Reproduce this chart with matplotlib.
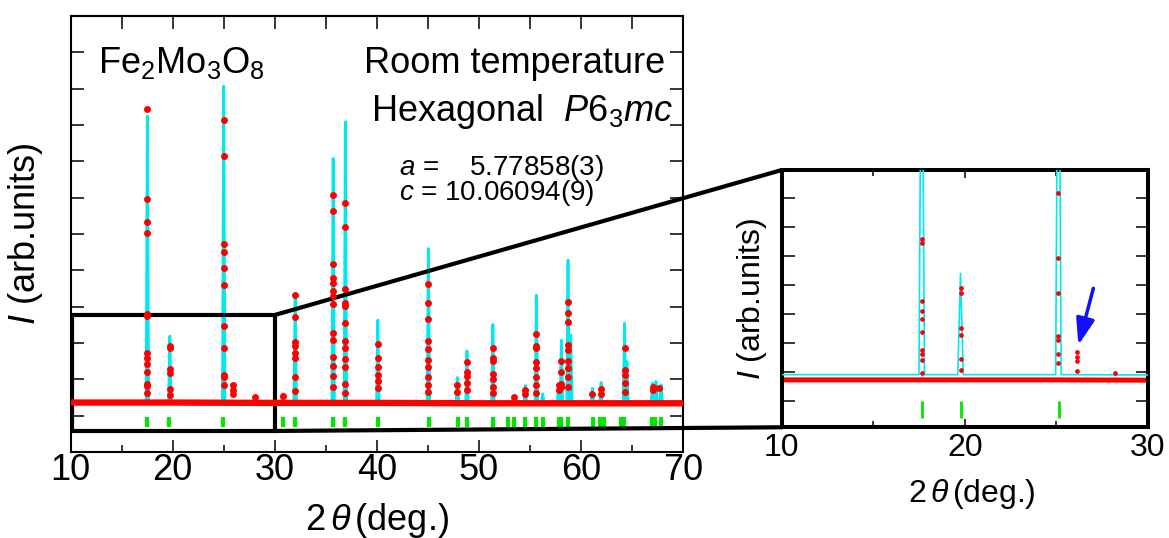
import matplotlib
matplotlib.use("Agg")
import matplotlib.pyplot as plt
from matplotlib.patches import Rectangle, ConnectionPatch
from matplotlib.ticker import MultipleLocator

plt.rcParams["font.family"] = ["Liberation Sans", "DejaVu Sans"]
plt.rcParams["mathtext.fontset"] = "custom"
plt.rcParams["mathtext.rm"] = "Liberation Sans"
plt.rcParams["mathtext.it"] = "Liberation Sans:italic"

RED = "#ff0000"
CYAN = "#00e8f0"
GREEN = "#00e600"

# ---------------- main pattern (arb. units) ----------------
base_x = [10, 20, 30, 40, 50, 60, 70]
base_obs = [1.36, 1.36, 1.35, 1.35, 1.34, 1.34, 1.34]
base_calc = [1.38, 1.38, 1.38, 1.38, 1.37, 1.37, 1.37]

calc_pos = [17.52, 19.72, 25.0, 30.8, 32.0, 35.72, 36.92, 40.1, 45.05, 47.9,
            48.83, 51.37, 53.4, 54.55, 55.63, 56.25, 57.8, 58.08, 58.73, 59.0,
            61.12, 61.97, 64.27, 64.5, 67.0, 67.35, 67.85]
calc_top = [9.25, 3.19, 10.07, 1.6, 4.28, 8.08, 9.09, 3.63, 5.6, 2.05,
            2.78, 3.51, 1.52, 1.83, 4.32, 1.6, 1.85, 3.08, 5.28, 3.22,
            1.75, 1.91, 3.54, 2.49, 1.9, 1.94, 1.85]

obs_pos = [17.52, 19.72, 25.0, 25.95, 28.1, 30.8, 32.0, 35.72, 36.92, 40.1,
           45.05, 47.9, 48.83, 51.37, 53.4, 54.55, 55.63, 57.8, 58.08, 58.73,
           61.12, 61.97, 64.27, 67.1, 67.6]
obs_dots = [
    [9.44, 6.96, 6.34, 6.02, 3.79, 3.74, 2.73, 2.58, 2.41, 2.19, 1.87, 1.82, 1.61],
    [2.93, 2.87, 2.28, 2.17, 1.73, 1.57],
    [9.14, 8.14, 5.73, 5.51, 5.05, 4.6, 3.48, 2.87, 2.12, 2.07, 1.83],
    [1.84, 1.71, 1.6],
    [1.5],
    [1.55],
    [4.32, 3.72, 3.04, 2.92, 2.72, 2.58, 2.05, 1.69],
    [7.06, 6.64, 5.17, 4.8, 4.64, 4.44, 4.28, 4.06, 3.28, 3.08, 2.62, 2.37, 2.09, 1.8],
    [6.85, 6.18, 4.49, 4.09, 4.03, 3.54, 3.06, 2.85, 2.56, 2.35, 1.87, 1.63],
    [2.96, 2.58, 2.35, 2.12, 1.94, 1.75],
    [4.62, 4.09, 3.66, 3.06, 2.84, 2.53, 2.33, 2.07, 1.84, 1.65],
    [1.84, 1.66],
    [2.49, 2.21, 2.1, 1.89, 1.7],
    [2.85, 2.58, 2.5, 2.15, 2.0, 1.8, 1.61],
    [1.5],
    [1.71, 1.6],
    [3.25, 2.92, 2.85, 2.49, 2.3, 2.07, 1.84, 1.61],
    [1.83, 1.7],
    [2.51, 2.19, 1.87, 1.8],
    [4.14, 3.83, 3.59, 2.95, 2.81, 2.51, 2.3, 2.06, 1.8],
    [1.6],
    [1.73, 1.6],
    [2.85, 2.26, 2.12, 1.89, 1.65],
    [1.8, 1.7],
    [1.75],
]

bragg = [17.52, 19.68, 24.97, 30.79, 32.0, 35.7, 36.87, 40.11, 45.07, 47.91,
         48.83, 51.34, 52.85, 53.4, 54.55, 55.6, 56.25, 57.81, 58.05, 58.73,
         61.15, 61.9, 62.22, 63.96, 64.19, 66.97, 67.29, 67.85]

# ---------------- inset (10-30 deg, own scale) ----------------
in_base_x = [10, 15, 20, 25, 30]
in_base_obs = [1.73, 1.73, 1.73, 1.73, 1.72]
in_base_calc = [1.91, 1.91, 1.91, 1.91, 1.9]
in_calc_pos = [17.65, 19.77, 25.12]
in_calc_top = [17.0, 5.39, 18.6]
in_obs_pos = [17.65, 19.77, 25.12, 26.15, 28.2]
in_obs_dots = [
    [6.59, 6.44, 4.44, 4.11, 3.81, 3.37, 2.76, 2.61, 2.42, 1.96],
    [4.88, 4.71, 3.51, 3.28, 2.44, 2.07],
    [8.17, 5.94, 4.73, 3.25, 3.10, 2.61, 2.30],
    [2.68, 2.53, 2.38, 2.02],
    [1.95],
]
in_bragg = [17.68, 19.77, 25.15]
arrow_tail = (27.03, 4.88)
arrow_tip = (26.21, 2.93)


def profile(xs, ys, pos, top, half):
    px, py = [xs[0]], [ys[0]]
    for p, t in zip(pos, top):
        px += [p - half, p, p + half]
        py += [ys[0], t, ys[0]]
    px.append(xs[-1])
    py.append(ys[-1])
    return px, py


fig = plt.figure(figsize=(11.69, 5.38), dpi=100)

# ---------------- main axes ----------------
ax = fig.add_axes([0.0604, 0.1599, 0.5239, 0.8104])
cx, cy = profile(base_x, base_calc, calc_pos, calc_top, 0.12)
ax.plot(cx, cy, color=CYAN, lw=2, zorder=2)
ax.plot(base_x, base_obs, color=RED, lw=4.6, solid_capstyle="round", zorder=4)
for p, dots in zip(obs_pos, obs_dots):
    ax.plot([p] * len(dots), dots, "o", color=RED, ms=5, mec="none", zorder=5)
ax.vlines(bragg, 0.69, 0.97, color=GREEN, lw=3, zorder=3)

ax.set_xlim(10, 70)
ax.set_ylim(0, 12)
ax.xaxis.set_major_locator(MultipleLocator(10))
ax.xaxis.set_minor_locator(MultipleLocator(5))
ax.yaxis.set_major_locator(MultipleLocator(1))
ax.tick_params(axis="x", which="major", direction="in", length=9, width=1.1,
               labelsize=26, pad=1, top=False)
ax.tick_params(axis="x", which="minor", direction="in", length=5, width=1.1, top=False)
ax.tick_params(axis="y", direction="in", length=9.5, width=1.1, left=True,
               right=True, labelleft=False)
for s in ax.spines.values():
    s.set_linewidth(1.5)
top = ax.secondary_xaxis("top")
top.xaxis.set_major_locator(MultipleLocator(5))
top.tick_params(direction="in", length=9.5, width=1.1, labeltop=False)
top.spines["top"].set_linewidth(1.5)

ax.set_xlabel(r"2$\,\theta\,$(deg.)", fontsize=26, va="baseline")
ax.xaxis.set_label_coords(0.5, -0.179)
ax.set_ylabel(r"$I$ (arb.units)", fontsize=26)
ax.yaxis.set_label_coords(-0.0425, 0.5)

ax.text(0.0452, 0.870, r"Fe$_2$Mo$_3$O$_8$", fontsize=26, transform=ax.transAxes,
        va="baseline")
ax.text(0.9706, 0.870, "Room temperature", fontsize=26, ha="right",
        va="baseline", transform=ax.transAxes)
ax.text(0.9842, 0.760, r"Hexagonal  $P$6$_3$$mc$", fontsize=26, ha="right",
        va="baseline", transform=ax.transAxes)
ax.text(0.5367, 0.622, "$a$ =    5.77858(3)\n$c$ = 10.06094(9)", fontsize=20,
        va="center", ha="left", linespacing=0.78, transform=ax.transAxes)

rect_x = (10.12, 30)
rect_y = (0.578, 3.77)
ax.add_patch(Rectangle((rect_x[0], rect_y[0]), rect_x[1] - rect_x[0],
                       rect_y[1] - rect_y[0], fill=False, lw=3, ec="black", zorder=3.5))

# ---------------- inset axes ----------------
ax2 = fig.add_axes([0.6687, 0.2058, 0.3131, 0.4782])
ix, iy = profile(in_base_x, in_base_calc, in_calc_pos, in_calc_top, 0.15)
ax2.plot(in_base_x, in_base_obs, color=RED, lw=3.6, solid_capstyle="round", zorder=2)
ax2.plot(ix, iy, color=CYAN, lw=1.2, zorder=3)
for p, dots in zip(in_obs_pos, in_obs_dots):
    ax2.plot([p] * len(dots), dots, "o", color=RED, ms=3.4, mec="none", zorder=4)
ax2.vlines(in_bragg, 0.42, 0.99, color=GREEN, lw=2, zorder=3)
ax2.annotate("", xy=arrow_tip, xytext=arrow_tail,
             arrowprops=dict(arrowstyle="-|>,head_length=0.8,head_width=0.28",
                             mutation_scale=20, color="#1010ff", lw=2.5,
                             shrinkA=0, shrinkB=0))

ax2.set_xlim(10, 30)
ax2.set_ylim(0.1, 8.95)
ax2.xaxis.set_major_locator(MultipleLocator(10))
ax2.xaxis.set_minor_locator(MultipleLocator(5))
ax2.yaxis.set_major_locator(MultipleLocator(1))
ax2.tick_params(axis="x", which="major", direction="in", length=6, width=1.1,
                labelsize=23, pad=4, top=True)
ax2.tick_params(axis="x", which="minor", direction="in", length=4.5, width=1.1, top=True)
ax2.tick_params(axis="y", direction="in", length=9, width=1.1, left=True,
                right=True, labelleft=False)
for s in ax2.spines.values():
    s.set_linewidth(2.9)
ax2.set_xlabel(r"2$\,\theta\,$(deg.)", fontsize=23, va="baseline")
ax2.xaxis.set_label_coords(0.52, -0.289)
ax2.set_ylabel(r"$I$ (arb.units)", fontsize=23)
ax2.yaxis.set_label_coords(-0.035, 0.5)

# connectors from the zoom box to the inset
for ya, yb in [(rect_y[1], 1), (rect_y[0], 0)]:
    con = ConnectionPatch(xyA=(rect_x[1], ya), coordsA=ax.transData,
                          xyB=(0, yb), coordsB=ax2.transAxes,
                          color="black", lw=3, zorder=3.5)
    ax.add_artist(con)

fig.savefig("out.png", dpi=100)
